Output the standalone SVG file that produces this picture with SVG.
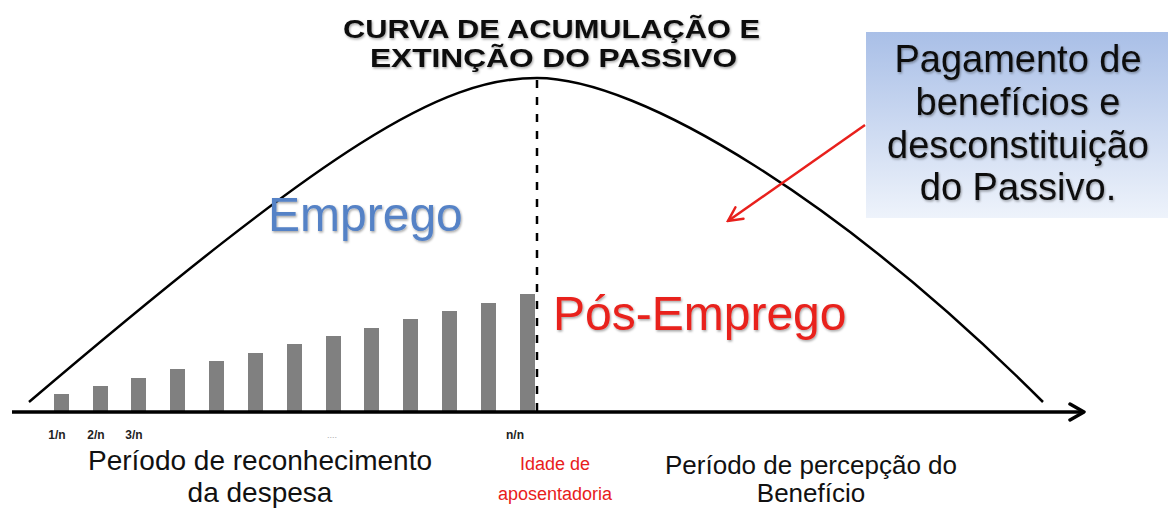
<svg xmlns="http://www.w3.org/2000/svg" width="1168" height="508" viewBox="0 0 1168 508">
<defs>
<linearGradient id="boxg" x1="0" y1="0" x2="0" y2="1">
<stop offset="0" stop-color="#a9bfe7"/>
<stop offset="1" stop-color="#eef3fb"/>
</linearGradient>
<filter id="sh" x="-10%" y="-10%" width="120%" height="130%">
<feDropShadow dx="1" dy="1.5" stdDeviation="1" flood-color="#000" flood-opacity="0.35"/>
</filter>
<marker id="ax" viewBox="0 0 20 20" refX="18" refY="10" markerWidth="20" markerHeight="20" markerUnits="userSpaceOnUse" orient="auto">
<path d="M4,2 L18,10 L4,18" fill="none" stroke="#000" stroke-width="3.5" stroke-linecap="round" stroke-linejoin="round"/>
</marker>
<marker id="ra" viewBox="0 0 20 20" refX="18" refY="10" markerWidth="20" markerHeight="20" markerUnits="userSpaceOnUse" orient="auto">
<path d="M4,3 L18,10 L4,17" fill="none" stroke="#e8201c" stroke-width="2.5" stroke-linecap="round"/>
</marker>
</defs>
<style>
text{font-family:"Liberation Sans",Arial,sans-serif}
.bar{fill:#808080}
.t{font-weight:bold;font-size:26px;fill:#111}
.box{font-size:38px;fill:#111}
.sm{font-size:12px;font-weight:bold;fill:#222}
.lab{font-size:28px;fill:#111}
.red{fill:#e8201c}
</style>
<g id="title">
<text class="t" x="343" y="38" textLength="417" lengthAdjust="spacingAndGlyphs" filter="url(#sh)">CURVA DE ACUMULAÇÃO E</text>
<text class="t" x="370" y="67" textLength="367" lengthAdjust="spacingAndGlyphs" filter="url(#sh)">EXTINÇÃO DO PASSIVO</text>
</g>
<g id="bars">
<rect class="bar" x="54" y="394" width="15" height="18"/>
<rect class="bar" x="93" y="386" width="15" height="26"/>
<rect class="bar" x="131" y="378" width="15" height="34"/>
<rect class="bar" x="170" y="369" width="15" height="43"/>
<rect class="bar" x="209" y="361" width="15" height="51"/>
<rect class="bar" x="248" y="353" width="15" height="59"/>
<rect class="bar" x="287" y="344" width="15" height="68"/>
<rect class="bar" x="326" y="336" width="15" height="76"/>
<rect class="bar" x="364" y="328" width="15" height="84"/>
<rect class="bar" x="403" y="319" width="15" height="93"/>
<rect class="bar" x="442" y="311" width="15" height="101"/>
<rect class="bar" x="481" y="303" width="15" height="109"/>
<rect class="bar" x="520" y="294" width="15" height="118"/>
</g>
<g id="curve">
<path d="M29,402 C330,146 440,78 537,78 C640,78 843,202 1043,402" fill="none" stroke="#000" stroke-width="2.5"/>
</g>
<g id="connectors">
<line x1="12" y1="412" x2="1084" y2="412" stroke="#000" stroke-width="3.5" marker-end="url(#ax)"/>
<line x1="537" y1="80" x2="537" y2="412" stroke="#000" stroke-width="2.5" stroke-dasharray="8 9"/>
<line x1="865" y1="125" x2="728" y2="221" stroke="#e8201c" stroke-width="2.5" marker-end="url(#ra)"/>
</g>
<g id="callout">
<rect x="866" y="32" width="302" height="186" fill="url(#boxg)"/>
<text class="box" x="1018" y="72" text-anchor="middle" filter="url(#sh)">Pagamento de</text>
<text class="box" x="1018" y="115" text-anchor="middle" filter="url(#sh)">benefícios e</text>
<text class="box" x="1018" y="158" text-anchor="middle" filter="url(#sh)">desconstituição</text>
<text class="box" x="1018" y="200" text-anchor="middle" filter="url(#sh)">do Passivo.</text>
</g>
<g id="emprego">
<text x="268" y="231" font-size="48" fill="#5582c6" filter="url(#sh)">Emprego</text>
</g>
<g id="posemprego">
<text x="553" y="330" font-size="48" class="red" filter="url(#sh)">Pós-Emprego</text>
</g>
<g id="ticks">
<text class="sm" x="57" y="439" text-anchor="middle">1/n</text>
<text class="sm" x="96" y="439" text-anchor="middle">2/n</text>
<text class="sm" x="134" y="439" text-anchor="middle">3/n</text>
<text x="332" y="438" font-size="9" fill="#aaa" text-anchor="middle">....</text>
<text class="sm" x="515" y="439" text-anchor="middle">n/n</text>
</g>
<g id="periodo1">
<text class="lab" x="260" y="470" text-anchor="middle">Período de reconhecimento</text>
<text class="lab" x="260" y="502" text-anchor="middle">da despesa</text>
</g>
<g id="idade">
<text x="555" y="470" font-size="18" class="red" text-anchor="middle">Idade de</text>
<text x="555" y="500" font-size="18" class="red" text-anchor="middle">aposentadoria</text>
</g>
<g id="periodo2">
<text x="811" y="474" font-size="26" fill="#111" text-anchor="middle">Período de percepção do</text>
<text x="811" y="502" font-size="26" fill="#111" text-anchor="middle">Benefício</text>
</g>
</svg>
